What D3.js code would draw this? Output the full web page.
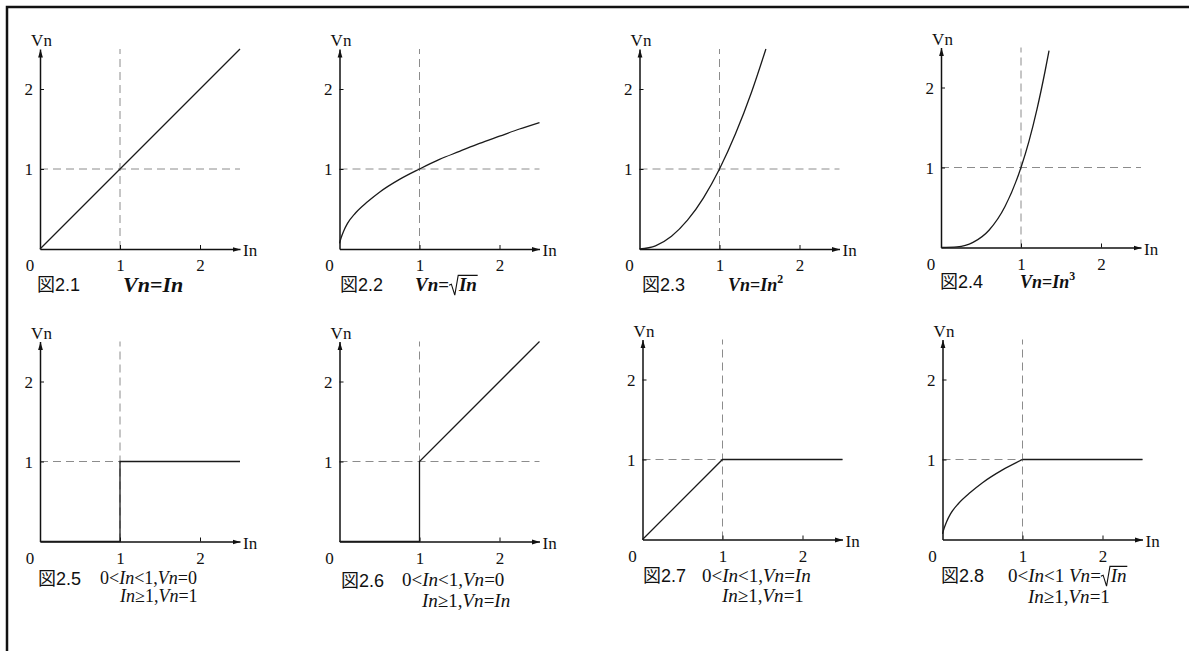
<!DOCTYPE html>
<html>
<head>
<meta charset="utf-8">
<script src="https://cdn.jsdelivr.net/npm/d3@7"></script>
<style>
  html, body { margin: 0; padding: 0; background: #fff; }
  svg { display: block; }
  .tick text, .lbl { font-family: "Liberation Serif", "DejaVu Serif", serif; fill: #111; }
  .fig { font-family: "Liberation Sans", "Noto Sans CJK JP", sans-serif; fill: #111; }
  .eq text { font-family: "Liberation Serif", "DejaVu Serif", serif; fill: #111; white-space: pre; }
</style>
</head>
<body>
<svg id="chart" width="1189" height="651"></svg>
<script>
const width = 1189, height = 651;

// tick values and labels
const xTicks = [1, 2];
const yTicks = [1, 2];
const figLabels = ["図2.1", "図2.2", "図2.3", "図2.4", "図2.5", "図2.6", "図2.7", "図2.8"];

// curves, [In, Vn]
const linearPts = [[0, 0], [2.5, 2.5]];
const sqrtPts = [[0, 0.07], [0.02, 0.14], [0.05, 0.22], [0.1, 0.32], [0.2, 0.45], [0.35, 0.59],
  [0.5, 0.71], [0.75, 0.87], [1, 1], [1.25, 1.12], [1.5, 1.22], [1.75, 1.32], [2, 1.41], [2.25, 1.5], [2.5, 1.58]];
const squarePts = [[0, 0], [0.2, 0.04], [0.4, 0.16], [0.6, 0.36], [0.8, 0.64], [1, 1], [1.2, 1.44], [1.4, 1.96], [1.58, 2.5]];
const cubePts = [[0, 0], [0.2, 0.008], [0.4, 0.064], [0.6, 0.216], [0.8, 0.512], [1, 1], [1.1, 1.33], [1.2, 1.73], [1.3, 2.2], [1.35, 2.46]];
const stepPts = [[0, 0], [1, 0], [1, 1], [2.5, 1]];
const stepLinearPts = [[0, 0], [1, 0], [1, 1], [2.5, 2.5]];
const clipLinearPts = [[0, 0], [1, 1], [2.5, 1]];
const clipSqrtRise = [[0, 0.07], [0.02, 0.14], [0.05, 0.22], [0.1, 0.32], [0.2, 0.45], [0.35, 0.59], [0.5, 0.71], [0.75, 0.87], [1, 1]];
const clipSqrtFlat = [[1, 1], [2.5, 1]];

// formula texts: [text, style]  b = bold, i = italic, sup, sqrt
const eq1 = [[["Vn", "bi"], ["=", "b"], ["In", "bi"]]];
const eq2 = [[["Vn", "bi"], ["=", "b"], ["In", "sqrt bi"]]];
const eq3 = [[["Vn", "bi"], ["=", "b"], ["In", "bi"], ["2", "sup"]]];
const eq4 = [[["Vn", "bi"], ["=", "b"], ["In", "bi"], ["3", "sup"]]];
const eq5 = [[["0<", "r"], ["In", "i"], ["<1,", "r"], ["Vn", "i"], ["=0", "r"]],
             [["In", "i"], ["≥1,", "r"], ["Vn", "i"], ["=1", "r"]]];
const eq6 = [[["0<", "r"], ["In", "i"], ["<1,", "r"], ["Vn", "i"], ["=0", "r"]],
             [["In", "i"], ["≥1,", "r"], ["Vn", "i"], ["=", "r"], ["In", "i"]]];
const eq7 = [[["0<", "r"], ["In", "i"], ["<1,", "r"], ["Vn", "i"], ["=", "r"], ["In", "i"]],
             [["In", "i"], ["≥1,", "r"], ["Vn", "i"], ["=1", "r"]]];
const eq8 = [[["0<", "r"], ["In", "i"], ["<1\u00a0", "r"], ["Vn", "i"], ["=", "r"], ["In", "sqrt i"]],
             [["In", "i"], ["≥1,", "r"], ["Vn", "i"], ["=1", "r"]]];

// panel placement
const panels = [
  { ox: 40,    oy: 249,   series: [[linearPts, d3.curveLinear]],     fig: [37, 291],  eq: eq1, eqx: [123], eqy: [292], fs: 22 },
  { ox: 339.5, oy: 249,   series: [[sqrtPts, d3.curveMonotoneX]],    fig: [340, 291], eq: eq2, eqx: [415], eqy: [291], fs: 19 },
  { ox: 639.5, oy: 249,   series: [[squarePts, d3.curveMonotoneX]],  fig: [642, 291], eq: eq3, eqx: [728], eqy: [291], fs: 18 },
  { ox: 941,   oy: 247.5, series: [[cubePts, d3.curveMonotoneX]],    fig: [940, 288], eq: eq4, eqx: [1020], eqy: [288], fs: 18 },
  { ox: 40,    oy: 541.5, series: [[stepPts, d3.curveLinear]],       fig: [38, 585],  eq: eq5, eqx: [100, 120], eqy: [584, 602], fs: 18 },
  { ox: 339.5, oy: 541.5, series: [[stepLinearPts, d3.curveLinear]], fig: [341, 587], eq: eq6, eqx: [402, 422], eqy: [586, 607], fs: 19 },
  { ox: 642.5, oy: 539.5, series: [[clipLinearPts, d3.curveLinear]], fig: [643, 582], eq: eq7, eqx: [702, 722], eqy: [582, 602], fs: 19 },
  { ox: 942.5, oy: 539.5, series: [[clipSqrtRise, d3.curveMonotoneX], [clipSqrtFlat, d3.curveLinear]],
    fig: [941, 582], eq: eq8, eqx: [1008, 1028], eqy: [582, 603], fs: 19 }
];

const svg = d3.select("#chart");

svg.append("defs").append("marker")
  .attr("id", "arrow")
  .attr("viewBox", "0 0 8 6")
  .attr("refX", 8).attr("refY", 3)
  .attr("markerWidth", 8).attr("markerHeight", 6)
  .attr("markerUnits", "userSpaceOnUse")
  .attr("orient", "auto")
  .append("path").attr("d", "M0,0.6L8,3L0,5.4Z").attr("fill", "#111");

// frame (top and left edges only)
svg.append("path")
  .attr("d", `M7,${height}V7H${width}`)
  .attr("fill", "none").attr("stroke", "#111").attr("stroke-width", 2.5);

// one text element per line, tspans for the styled parts
function rich(g, x, y, segs, size) {
  const text = g.append("text").attr("x", x).attr("y", y).attr("font-size", size);
  const roots = [];
  let raised = false;
  segs.forEach(([t, st]) => {
    const sup = st === "sup";
    const sqrt = st.includes("sqrt");
    const flags = st.replace("sqrt", "").trim();
    const ts = text.append("tspan")
      .attr("font-style", flags.includes("i") ? "italic" : "normal")
      .attr("font-weight", flags.includes("b") || sup ? "bold" : "normal")
      .text(t);
    if (sup) { ts.attr("font-size", size * 0.66).attr("dy", -size * 0.42); raised = true; }
    else if (raised) { ts.attr("dy", size * 0.42); raised = false; }
    if (sqrt) { ts.attr("dx", size * 0.52); roots.push(ts); }
  });
  roots.forEach(ts => {
    const node = ts.node();
    const w = node.getComputedTextLength();
    // find start of the radicand inside the whole text
    let idx = 0;
    for (const c of text.node().childNodes) { if (c === node) break; idx += c.textContent.length; }
    const sx = text.node().getStartPositionOfChar(idx).x;
    const rx = sx - size * 0.52;
    const top = y - size * 0.82;
    g.append("path")
      .attr("d", `M${rx},${y - size * 0.3}L${rx + size * 0.12},${y - size * 0.36}L${rx + size * 0.3},${y + size * 0.22}L${rx + size * 0.48},${top}H${sx + w + size * 0.04}`)
      .attr("fill", "none").attr("stroke", "#111").attr("stroke-width", 1.1);
  });
}

panels.forEach((p, i) => {
  const x = d3.scaleLinear().domain([0, 2.5]).range([p.ox, p.ox + 200]);
  const y = d3.scaleLinear().domain([0, 2.5]).range([p.oy, p.oy - 200]);
  const g = svg.append("g");

  // dashed guides at In = 1 and Vn = 1
  g.append("line")
    .attr("x1", x(1)).attr("x2", x(1)).attr("y1", y(0)).attr("y2", y(2.5))
    .attr("stroke", "#8c8c8c").attr("stroke-width", 1).attr("stroke-dasharray", "8,5");
  g.append("line")
    .attr("x1", x(0)).attr("x2", x(2.5)).attr("y1", y(1)).attr("y2", y(1))
    .attr("stroke", "#8c8c8c").attr("stroke-width", 1).attr("stroke-dasharray", "8,5");

  // axes
  const gx = g.append("g").attr("transform", `translate(0,${p.oy})`)
    .call(d3.axisBottom(x).tickValues(xTicks).tickFormat(d3.format("d"))
      .tickSizeInner(-4).tickSizeOuter(0).tickPadding(10));
  const gy = g.append("g").attr("transform", `translate(${p.ox},0)`)
    .call(d3.axisLeft(y).tickValues(yTicks).tickFormat(d3.format("d"))
      .tickSizeInner(-4).tickSizeOuter(0).tickPadding(7));
  [gx, gy].forEach(a => {
    a.attr("font-family", null);
    a.select(".domain").attr("stroke", "#111").attr("stroke-width", 1.5).attr("marker-end", "url(#arrow)");
    a.selectAll(".tick line").attr("stroke", "#111").attr("stroke-width", 1);
    a.selectAll(".tick text").attr("font-size", 17).attr("fill", "#111");
  });
  gy.selectAll(".tick text").attr("dy", "0.34em");

  g.append("text").attr("class", "lbl")
    .attr("x", x(0) - 10).attr("y", p.oy + 22)
    .attr("text-anchor", "middle").attr("font-size", 17).text("0");
  g.append("text").attr("class", "lbl")
    .attr("x", x(2.5) + 3).attr("y", p.oy + 7)
    .attr("font-size", 17).text("In");
  g.append("text").attr("class", "lbl")
    .attr("x", x(0) + 1.5).attr("y", y(2.5) - 3)
    .attr("text-anchor", "middle").attr("font-size", 17).text("Vn");

  // data curves
  p.series.forEach(([pts, curve]) => {
    g.append("path")
      .datum(pts)
      .attr("d", d3.line().x(d => x(d[0])).y(d => y(d[1])).curve(curve))
      .attr("fill", "none").attr("stroke", "#1a1a1a").attr("stroke-width", 1.3);
  });

  // captions
  g.append("text").attr("class", "fig")
    .attr("x", p.fig[0]).attr("y", p.fig[1])
    .attr("font-size", 18).text(figLabels[i]);
  const eg = g.append("g").attr("class", "eq");
  p.eq.forEach((segs, k) => rich(eg, p.eqx[k], p.eqy[k], segs, p.fs));
});
</script>
</body>
</html>
